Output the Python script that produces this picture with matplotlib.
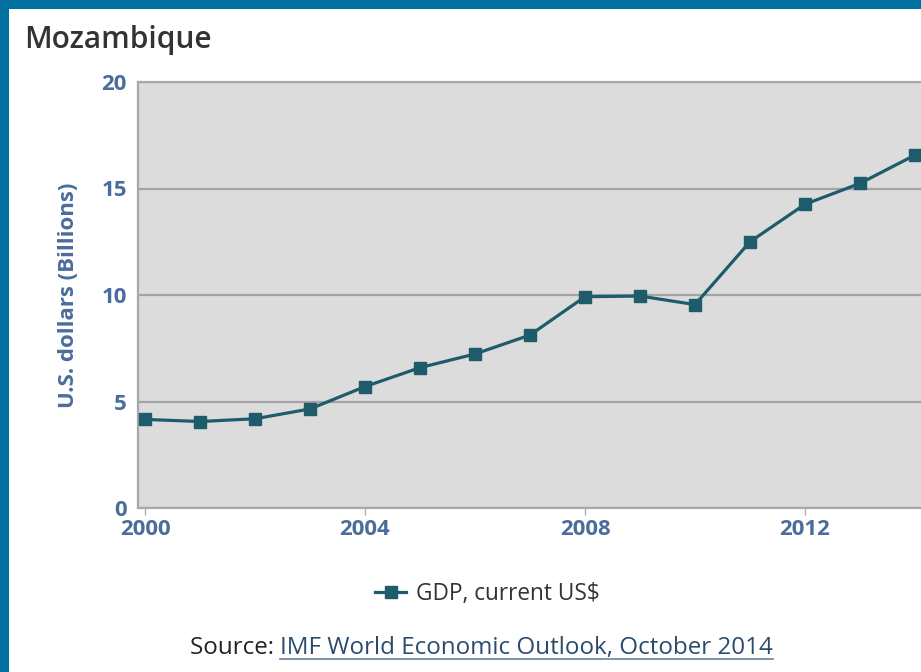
import matplotlib
matplotlib.use("Agg")
import matplotlib.pyplot as plt
from matplotlib.lines import Line2D
from matplotlib.patches import Rectangle

years = [2000, 2001, 2002, 2003, 2004, 2005, 2006, 2007, 2008, 2009, 2010, 2011, 2012, 2013, 2014]
gdp = [4.16, 4.06, 4.19, 4.65, 5.70, 6.59, 7.23, 8.12, 9.92, 9.95, 9.55, 12.50, 14.26, 15.24, 16.57]
xticks = [2000, 2004, 2008, 2012]
xticklabels = ['2000', '2004', '2008', '2012']
yticks = [0, 5, 10, 15, 20]
yticklabels = ['0', '5', '10', '15', '20']

W, H = 921, 672
plt.rcParams['font.family'] = ['Open Sans', 'DejaVu Sans']

fig = plt.figure(figsize=(W / 100, H / 100), dpi=100)
fig.patch.set_facecolor('white')

# blue frame (top and left)
fig.patches.append(Rectangle((0, 1 - 9 / H), 1, 9 / H, transform=fig.transFigure,
                             facecolor='#0070a0', edgecolor='none', zorder=10))
fig.patches.append(Rectangle((0, 0), 9 / W, 1, transform=fig.transFigure,
                             facecolor='#0070a0', edgecolor='none', zorder=10))

left_px, right_px, top_px, bot_px = 138, 935, 82, 508
ax = fig.add_axes([left_px / W, 1 - bot_px / H, (right_px - left_px) / W, (bot_px - top_px) / H])
ax.set_facecolor('#dcdcdc')

px_per_year = 55.0
x0 = 2000 - (145 - left_px) / px_per_year
x1 = 2000 + (right_px - 145) / px_per_year
ax.set_xlim(x0, x1)
ax.set_ylim(0, 20)

ax.plot(years, gdp, color='#1e5b6b', linewidth=2.3, marker='s', markersize=9,
        markerfacecolor='#1e5b6b', markeredgecolor='#1e5b6b', label='GDP, current US$',
        clip_on=False, zorder=3)

tick_color = '#4a6d9c'
ax.set_yticks(yticks, labels=yticklabels, fontsize=16, fontweight='bold', color=tick_color)
ax.set_xticks(xticks, labels=xticklabels, fontsize=16, fontweight='bold', color=tick_color)
ax.yaxis.grid(True, color='#a4a4a4', linewidth=1.6)
ax.set_axisbelow(True)
ax.tick_params(axis='y', length=0, pad=8)
ax.tick_params(axis='x', length=5, width=1, color='#b0b0b0', pad=3)

for s in ['left', 'bottom', 'top']:
    ax.spines[s].set_color('#a8a8a8')
    ax.spines[s].set_linewidth(1.6)
ax.spines['right'].set_visible(False)

ax.set_ylabel('U.S. dollars (Billions)', fontsize=16, fontweight='bold', color=tick_color, labelpad=16)

fig.text(24 / W, 1 - 40 / H, 'Mozambique', fontsize=21.5, fontweight='semibold',
         color='#333333', va='center', ha='left')

fig.legend(loc='center', bbox_to_anchor=(487 / W, 1 - 594 / H), frameon=False, fontsize=16.3,
           handlelength=1.4, handletextpad=0.4, labelcolor='#333333')

t1 = fig.text(190 / W, 1 - 648 / H, 'Source: ', fontsize=17.4, color='#222222', va='center', ha='left')
fig.canvas.draw()
r = fig.canvas.get_renderer()
bb = t1.get_window_extent(r)
t2 = fig.text(bb.x1 / W, 1 - 648 / H, 'IMF World Economic Outlook, October 2014', fontsize=17.4,
              color='#2b4b6e', va='center', ha='left')
fig.canvas.draw()
bb2 = t2.get_window_extent(r)
uy = (bb2.y0 + 1) / H
fig.add_artist(Line2D([bb2.x0 / W, bb2.x1 / W], [uy, uy], transform=fig.transFigure,
                      color='#6a7f99', linewidth=1.2))

fig.savefig('out.png', dpi=100)
